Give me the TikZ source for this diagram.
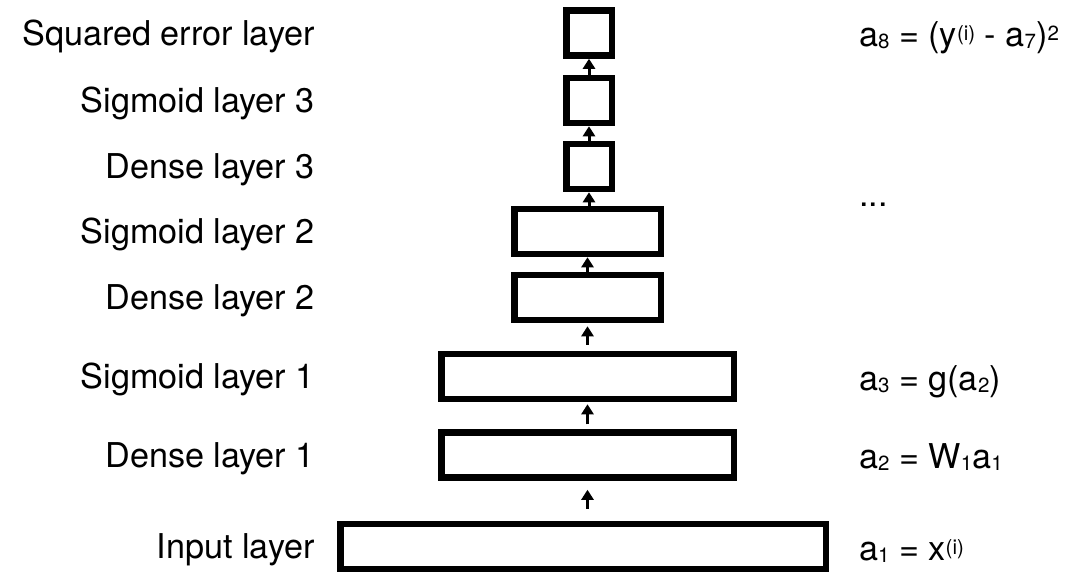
\documentclass[tikz,border=0pt]{standalone}
\usepackage{fontspec}
\setmainfont{TeX Gyre Heros}
\usetikzlibrary{arrows.meta}
% small lowered / raised indices in the formulas
\newcommand\lsub[1]{\raisebox{-2pt}{\fontsize{20.5}{22}\selectfont #1}}
\newcommand\lsup[1]{\raisebox{6pt}{\fontsize{20.5}{22}\selectfont #1}}
\begin{document}
\begin{tikzpicture}[x=1pt,y=-1pt,
  layer/.style={draw, line width=6.5pt, inner sep=0pt, minimum height=45pt},
  lbl/.style={anchor=base east, inner sep=0pt, font=\fontsize{34.2}{40}\selectfont},
  eqn/.style={anchor=base west, inner sep=0pt, font=\fontsize{34.2}{40}\selectfont},
  flow/.style={line width=3pt, -{Triangle[width=12pt,length=10pt]}}]
\fill[white] (0,0) rectangle (1073,576);
\useasboundingbox (0,0) rectangle (1073,576);

% network layers, bottom to top
\node[layer, minimum width=485.5pt] (inp)  at (583,546.5) {};
\node[layer, minimum width=292.5pt] (den1) at (587.5,455) {};
\node[layer, minimum width=292.5pt] (sig1) at (587.5,376.5) {};
\node[layer, minimum width=146.5pt] (den2) at (587.5,297.5) {};
\node[layer, minimum width=146.5pt] (sig2) at (587.5,231.5) {};
\node[layer, minimum width=45.5pt]  (den3) at (589,166.5) {};
\node[layer, minimum width=45.5pt]  (sig3) at (589,100.5) {};
\node[layer, minimum width=45.5pt]  (sqe)  at (589,33) {};

% forward connections
\draw[flow, shorten <=12pt, shorten >=9pt] (inp.north -| den1.south) -- (den1.south);
\draw[flow, shorten <=5pt, shorten >=2pt] (den1.north) -- (sig1.south);
\draw[flow, shorten <=6pt, shorten >=3pt] (sig1.north) -- (den2.south);
\draw[flow] (den2.north) -- (sig2.south);
\draw[flow] (sig2.north -| den3.south) -- (den3.south);
\draw[flow] (den3.north) -- (sig3.south);
\draw[flow] (sig3.north) -- (sqe.south);

% layer names
\node[lbl] (l8) at (315,45)    {Squared error layer};
\node[lbl] (l7) at (315,112.5) {Sigmoid layer 3};
\node[lbl] (l6) at (315,178.5) {Dense layer 3};
\node[lbl] (l5) at (315,243.5) {Sigmoid layer 2};
\node[lbl] (l4) at (315,309.5) {Dense layer 2};
\node[lbl] (l3) at (315,388.5) {Sigmoid layer 1};
\node[lbl] (l2) at (315,467)   {Dense layer 1};
\node[lbl] (l1) at (315,558.5) {Input layer};

% activations
\node[eqn] (e8) at (859,46)  {a\lsub{8} = (y\lsup{(i)} - a\lsub{7})\lsup{2}};
\node[eqn] (ed) at (859,206) {...};
\node[eqn] (e3) at (859,390) {a\lsub{3} = g(a\lsub{2})};
\node[eqn] (e2) at (859,468) {a\lsub{2} = W\lsub{1}a\lsub{1}};
\node[eqn] (e1) at (859,560) {a\lsub{1} = x\lsup{(i)}};
\end{tikzpicture}
\end{document}
